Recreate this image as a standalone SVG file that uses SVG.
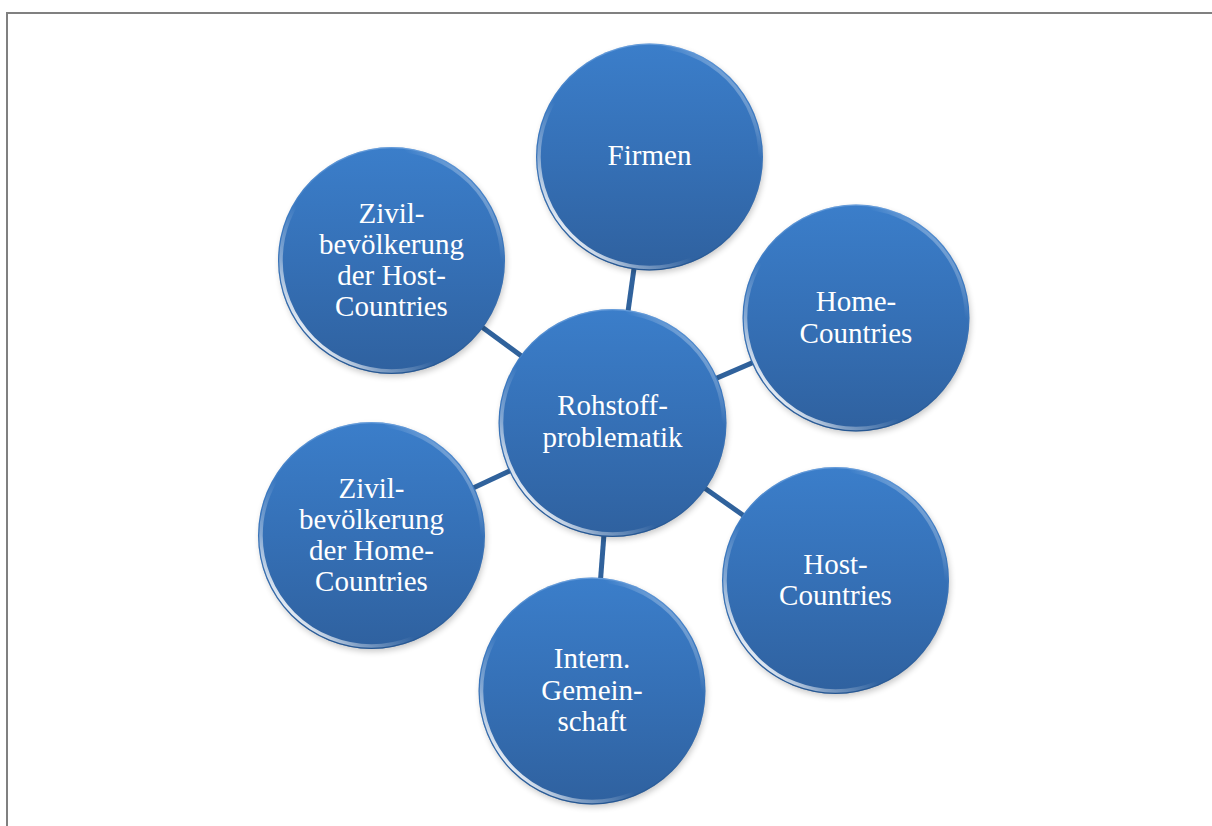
<svg xmlns="http://www.w3.org/2000/svg" width="1212" height="826" viewBox="0 0 1212 826">
  <defs>
    <linearGradient id="fillGrad" x1="0" y1="0" x2="0" y2="1">
      <stop offset="0" stop-color="#3b7eca"/>
      <stop offset="0.5" stop-color="#3570b6"/>
      <stop offset="1" stop-color="#2f619f"/>
    </linearGradient>
    <linearGradient id="rimGrad" x1="0.1" y1="0.85" x2="0.9" y2="0.15">
      <stop offset="0" stop-color="#ffffff" stop-opacity="0.95"/>
      <stop offset="0.15" stop-color="#ffffff" stop-opacity="0.4"/>
      <stop offset="0.35" stop-color="#ffffff" stop-opacity="0"/>
      <stop offset="0.85" stop-color="#ffffff" stop-opacity="0"/>
      <stop offset="1" stop-color="#ffffff" stop-opacity="0.35"/>
    </linearGradient>
    <linearGradient id="edgeGrad" x1="0" y1="0" x2="0" y2="1">
      <stop offset="0" stop-color="#8fb9ea" stop-opacity="0.5"/>
      <stop offset="0.3" stop-color="#5b95d8" stop-opacity="0.1"/>
      <stop offset="1" stop-color="#1f4f88" stop-opacity="0.6"/>
    </linearGradient>
    <filter id="shadow" x="-20%" y="-20%" width="140%" height="140%">
      <feGaussianBlur stdDeviation="3"/>
    </filter>
  </defs>
  <style>
    .frame { stroke: #808080; stroke-width: 2; fill: none; }
    .conn { stroke: #30629c; stroke-width: 5; fill: none; }
    .shd { fill: #000000; opacity: 0.22; filter: url(#shadow); }
    .body { fill: url(#fillGrad); }
    .edge { fill: none; stroke: url(#edgeGrad); stroke-width: 1.2; }
    .rim { fill: none; stroke: url(#rimGrad); stroke-width: 3.5; }
    .lbl { font-family: "Liberation Serif", "Times New Roman", serif; font-size: 29px; fill: #ffffff; text-anchor: middle; }
  </style>

  <rect width="1212" height="826" fill="#ffffff"/>
  <path class="frame" d="M7,826 V13 H1212"/>

  <g id="connectors">
    <line class="conn" x1="612.5" y1="423" x2="649.5" y2="157"/>
    <line class="conn" x1="612.5" y1="423" x2="856" y2="318"/>
    <line class="conn" x1="612.5" y1="423" x2="835.5" y2="580.5"/>
    <line class="conn" x1="612.5" y1="423" x2="592" y2="691"/>
    <line class="conn" x1="612.5" y1="423" x2="371.5" y2="535.5"/>
    <line class="conn" x1="612.5" y1="423" x2="391.5" y2="260.5"/>
  </g>

  <g id="node-firmen">
    <circle class="shd" cx="651" cy="160" r="113"/>
    <circle class="body" cx="649.5" cy="157" r="113.5"/>
    <circle class="edge" cx="649.5" cy="157" r="112.8"/>
    <circle class="rim" cx="649.5" cy="157" r="110.5"/>
    <text class="lbl" x="649.5" y="165">Firmen</text>
  </g>

  <g id="node-home">
    <circle class="shd" cx="857.5" cy="321" r="113"/>
    <circle class="body" cx="856" cy="318" r="113.5"/>
    <circle class="edge" cx="856" cy="318" r="112.8"/>
    <circle class="rim" cx="856" cy="318" r="110.5"/>
    <text class="lbl" x="856" y="311">Home-</text>
    <text class="lbl" x="856" y="342.5">Countries</text>
  </g>

  <g id="node-host">
    <circle class="shd" cx="837" cy="583.5" r="113"/>
    <circle class="body" cx="835.5" cy="580.5" r="113.5"/>
    <circle class="edge" cx="835.5" cy="580.5" r="112.8"/>
    <circle class="rim" cx="835.5" cy="580.5" r="110.5"/>
    <text class="lbl" x="835.5" y="573.5">Host-</text>
    <text class="lbl" x="835.5" y="605">Countries</text>
  </g>

  <g id="node-intern">
    <circle class="shd" cx="593.5" cy="694" r="113"/>
    <circle class="body" cx="592" cy="691" r="113.5"/>
    <circle class="edge" cx="592" cy="691" r="112.8"/>
    <circle class="rim" cx="592" cy="691" r="110.5"/>
    <text class="lbl" x="592" y="668">Intern.</text>
    <text class="lbl" x="592" y="699.5">Gemein-</text>
    <text class="lbl" x="592" y="731">schaft</text>
  </g>

  <g id="node-zivil-home">
    <circle class="shd" cx="373" cy="538.5" r="113"/>
    <circle class="body" cx="371.5" cy="535.5" r="113.5"/>
    <circle class="edge" cx="371.5" cy="535.5" r="112.8"/>
    <circle class="rim" cx="371.5" cy="535.5" r="110.5"/>
    <text class="lbl" x="371.5" y="497.5">Zivil-</text>
    <text class="lbl" x="371.5" y="528.5">bevölkerung</text>
    <text class="lbl" x="371.5" y="559.5">der Home-</text>
    <text class="lbl" x="371.5" y="590.5">Countries</text>
  </g>

  <g id="node-zivil-host">
    <circle class="shd" cx="393" cy="263.5" r="113"/>
    <circle class="body" cx="391.5" cy="260.5" r="113.5"/>
    <circle class="edge" cx="391.5" cy="260.5" r="112.8"/>
    <circle class="rim" cx="391.5" cy="260.5" r="110.5"/>
    <text class="lbl" x="391.5" y="222.5">Zivil-</text>
    <text class="lbl" x="391.5" y="253.5">bevölkerung</text>
    <text class="lbl" x="391.5" y="284.5">der Host-</text>
    <text class="lbl" x="391.5" y="315.5">Countries</text>
  </g>

  <g id="node-center">
    <circle class="shd" cx="614" cy="426" r="113.5"/>
    <circle class="body" cx="612.5" cy="423" r="114"/>
    <circle class="edge" cx="612.5" cy="423" r="113.3"/>
    <circle class="rim" cx="612.5" cy="423" r="111"/>
    <text class="lbl" x="612.5" y="415">Rohstoff-</text>
    <text class="lbl" x="612.5" y="446.5">problematik</text>
  </g>
</svg>
